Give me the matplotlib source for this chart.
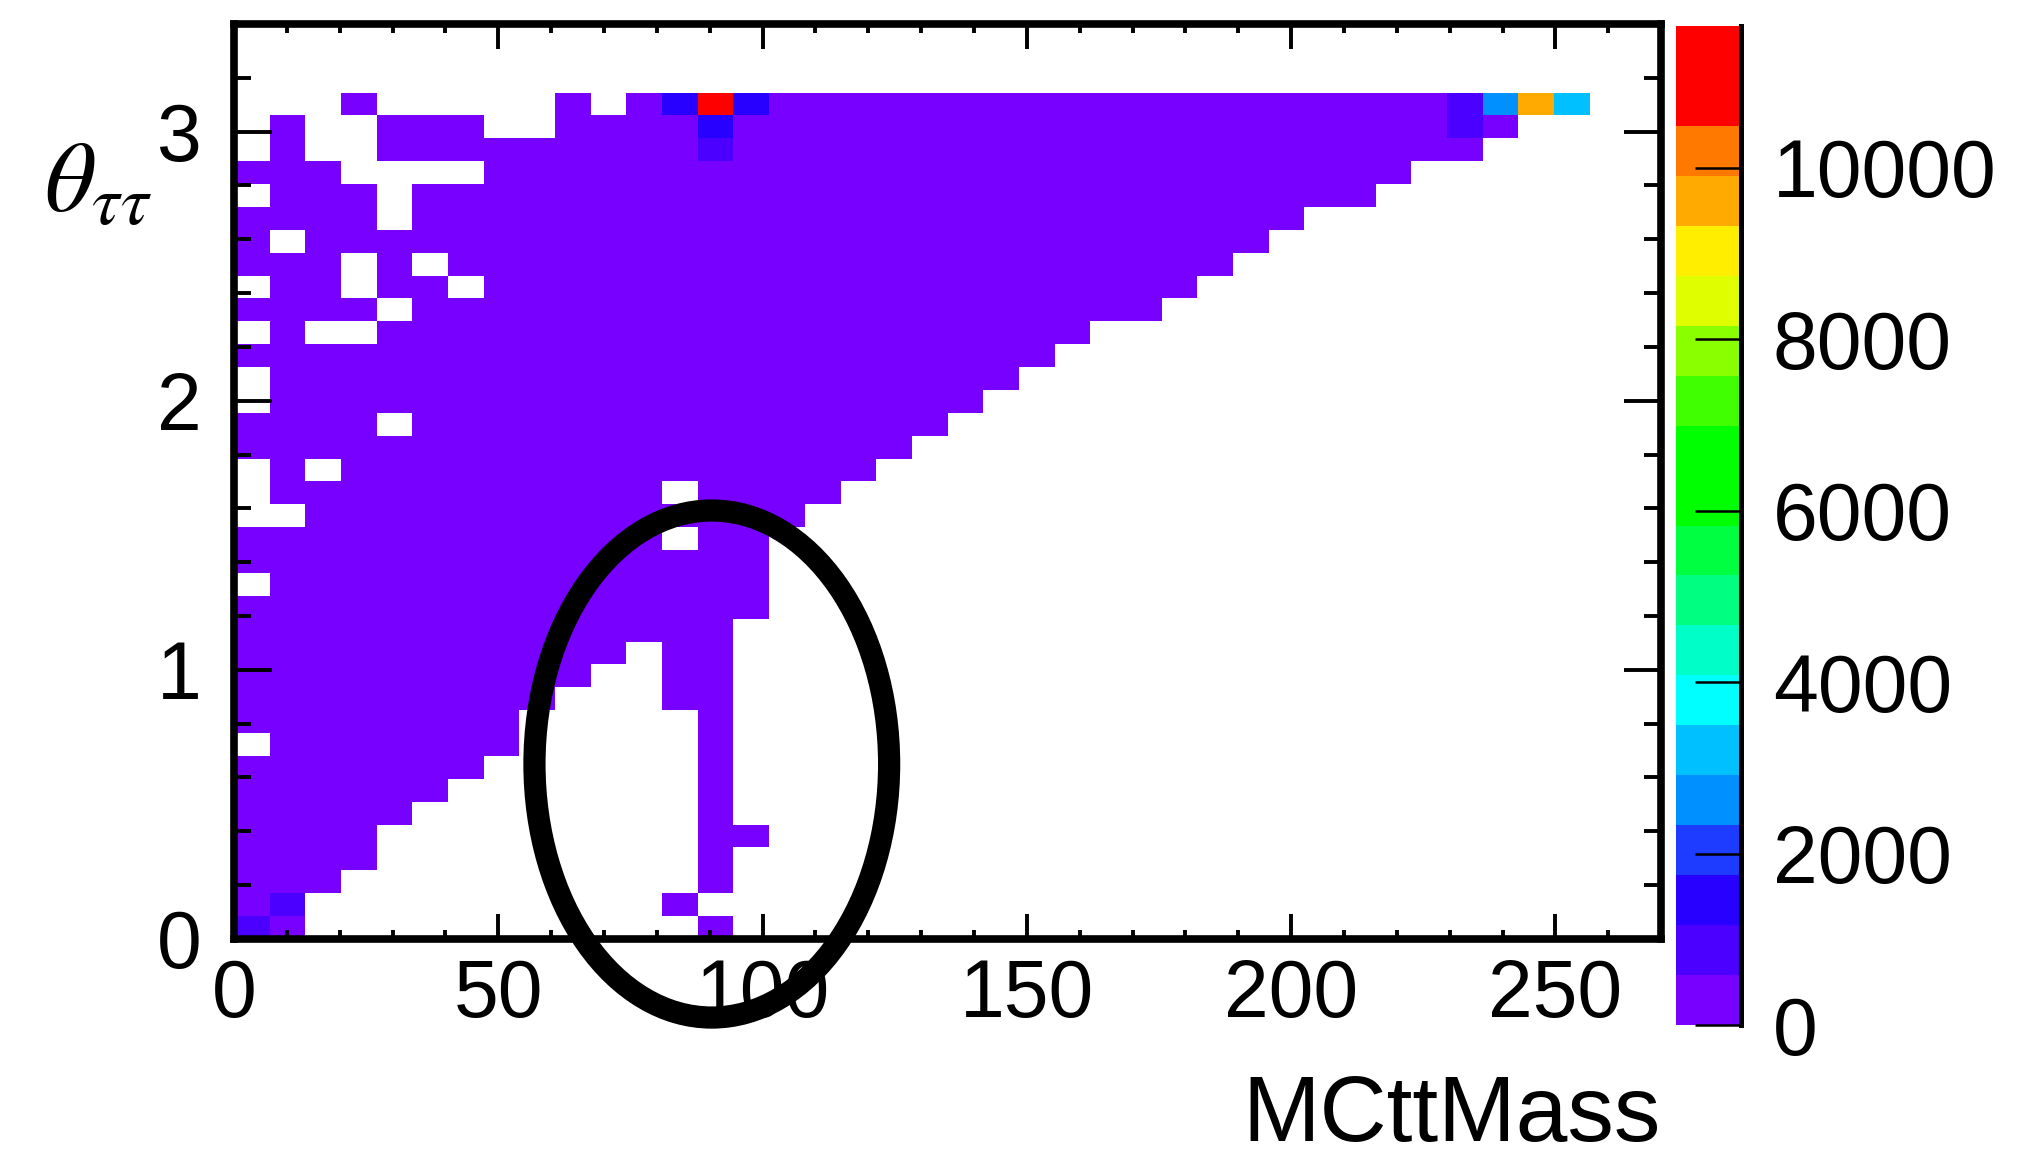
import numpy as np
import matplotlib
matplotlib.use("Agg")
import matplotlib.pyplot as plt
from matplotlib.colors import ListedColormap, BoundaryNorm
from matplotlib.patches import Ellipse
from matplotlib.ticker import MultipleLocator, FormatStrFormatter

plt.rcParams['font.family'] = ['Liberation Sans', 'DejaVu Sans']
plt.rcParams['mathtext.fontset'] = 'stix'

# binning: 40 x 40 bins, MCttMass 0-270, theta 0-3.4
x_edges = np.linspace(0, 270, 41)
y_edges = np.linspace(0, 3.4, 41)

# filled bins per theta row (x-bin runs, inclusive), all in the lowest band
low_count = 120
filled_runs = {
    36: [(3, 3), (9, 9), (11, 37)],
    35: [(1, 1), (4, 6), (9, 35)],
    34: [(1, 1), (4, 34)],
    33: [(0, 2), (7, 32)],
    32: [(1, 3), (5, 31)],
    31: [(0, 3), (5, 29)],
    30: [(0, 0), (2, 28)],
    29: [(0, 2), (4, 4), (6, 27)],
    28: [(1, 2), (4, 5), (7, 26)],
    27: [(0, 3), (5, 25)],
    26: [(1, 1), (4, 23)],
    25: [(0, 22)],
    24: [(1, 21)],
    23: [(1, 20)],
    22: [(0, 3), (5, 19)],
    21: [(0, 18)],
    20: [(1, 1), (3, 17)],
    19: [(1, 11), (13, 16)],
    18: [(2, 15)],
    17: [(0, 11), (13, 14)],
    16: [(0, 14)],
    15: [(1, 14)],
    14: [(0, 14)],
    13: [(0, 13)],
    12: [(0, 10), (12, 13)],
    11: [(0, 9), (12, 13)],
    10: [(0, 8), (12, 13)],
    9: [(0, 7), (13, 13)],
    8: [(1, 7), (13, 13)],
    7: [(0, 6), (13, 13)],
    6: [(0, 5), (13, 13)],
    5: [(0, 4), (13, 13)],
    4: [(0, 3), (13, 14)],
    3: [(0, 3), (13, 13)],
    2: [(0, 2), (13, 13)],
    1: [(0, 1), (12, 12)],
    0: [(0, 1), (13, 13)],
}
# (x bin, y bin, count) for the higher bins
special_bins = [
    (13, 36, 11600), (12, 36, 1450), (14, 36, 1450),
    (13, 35, 1300), (13, 34, 800),
    (34, 36, 850), (34, 35, 850), (35, 36, 2600),
    (36, 36, 9600), (37, 36, 3200),
    (0, 0, 700), (1, 1, 650),
]

z_max = 11650
palette = ['#7800ff', '#4b00ff', '#2800ff', '#1e3cff', '#0090ff',
           '#00c0ff', '#00ffff', '#00ffc8', '#00ff80', '#00ff40',
           '#00ff00', '#00ff00', '#40ff00', '#8aff00', '#dfff00',
           '#ffee00', '#ffaa00', '#ff7800', '#ff0000', '#ff0000']

counts = np.zeros((40, 40))
for row, runs in filled_runs.items():
    for a, b in runs:
        counts[row, a:b + 1] = low_count
for ix, iy, c in special_bins:
    counts[iy, ix] = c
counts = np.ma.masked_equal(counts, 0)

fig = plt.figure(figsize=(20.24, 11.68), dpi=100)
ax = fig.add_axes([0.1156, 0.1961, 0.7051, 0.7834])

cmap = ListedColormap(palette)
norm = BoundaryNorm(np.linspace(0, z_max, 21), cmap.N)
mesh = ax.pcolormesh(x_edges, y_edges, counts, cmap=cmap, norm=norm,
                     antialiased=False, linewidth=0)
ax.set_xlim(0, 270)
ax.set_ylim(0, 3.4)

ax.xaxis.set_major_locator(MultipleLocator(50))
ax.xaxis.set_minor_locator(MultipleLocator(10))
ax.yaxis.set_major_locator(MultipleLocator(1))
ax.yaxis.set_minor_locator(MultipleLocator(0.2))
ax.tick_params(axis='x', which='major', direction='in', length=18, width=2.8,
               top=True, labelsize=58, pad=14)
ax.tick_params(axis='x', which='minor', direction='in', length=6.5, width=2.8, top=True)
ax.tick_params(axis='y', which='major', direction='in', length=27, width=2.8,
               right=True, labelsize=58, pad=23)
ax.tick_params(axis='y', which='minor', direction='in', length=12, width=2.8, right=True)
for s in ax.spines.values():
    s.set_linewidth(5.5)

ax.text(1.0, -0.2208, 'MCttMass', transform=ax.transAxes, ha='right',
        va='baseline', fontsize=67)
fig.text(44 / 2024, 1 - 212 / 1168, r'$\theta_{\tau\tau}$', fontsize=72,
         ha='left', va='baseline')

# highlight around the Z peak region
ax.add_patch(Ellipse((90.4, 0.65), 67.1, 1.884, fill=False, ec='black',
                     lw=16, clip_on=False, zorder=10))

cax = fig.add_axes([0.8281, 0.1224, 0.0321, 0.8553])
cb = fig.colorbar(mesh, cax=cax, ticks=np.arange(0, 10001, 2000))
cb.outline.set_visible(False)
cax.yaxis.set_major_formatter(FormatStrFormatter('%d'))
cax.tick_params(direction='in', length=33, width=1.8, labelsize=58, pad=23,
                right=True, left=False)
cax.minorticks_off()
cax.plot([1, 1], [0, 1], transform=cax.transAxes, color='black', lw=3.6,
         clip_on=False)

fig.savefig('out.png', dpi=100)
